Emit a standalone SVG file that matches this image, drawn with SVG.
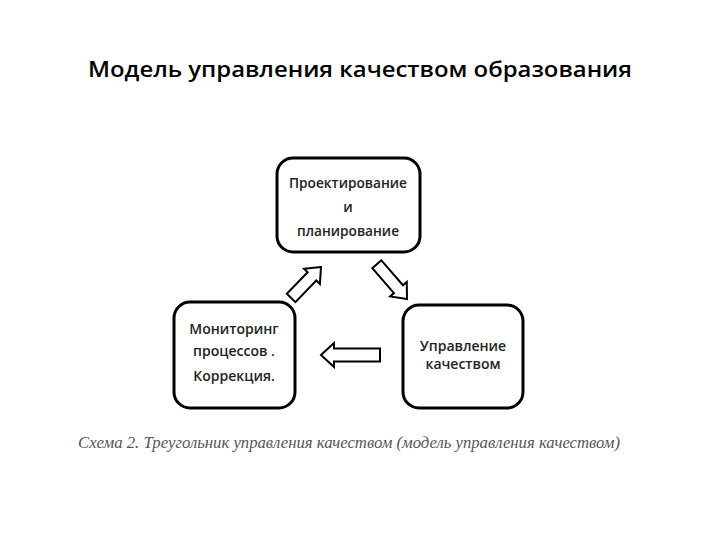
<svg xmlns="http://www.w3.org/2000/svg" width="720" height="540" viewBox="0 0 720 540">
<style>
.box{fill:#fff;stroke:#000;stroke-width:3}
.t{font-family:"Open Sans","Noto Sans",sans-serif;font-size:14px;font-weight:600;fill:#222;text-anchor:middle}
.arrow{fill:#fff;stroke:#000;stroke-width:2;stroke-linejoin:miter}
</style>
<rect width="720" height="540" fill="#fff"/>
<text x="360" y="77" font-family="Open Sans, Noto Sans, sans-serif" font-size="21" font-weight="600" text-anchor="middle" fill="#000" textLength="544" lengthAdjust="spacingAndGlyphs">Модель управления качеством образования</text>
<g id="node-design">
<rect class="box" x="277" y="158" width="143" height="94" rx="16"/>
<text class="t" x="348" y="188" textLength="118" lengthAdjust="spacingAndGlyphs">Проектирование</text>
<text class="t" x="348" y="212">и</text>
<text class="t" x="348" y="236" textLength="102" lengthAdjust="spacingAndGlyphs">планирование</text>
</g>
<g id="node-monitoring">
<rect class="box" x="174" y="302" width="121" height="106" rx="16"/>
<text class="t" x="234" y="334">Мониторинг</text>
<text class="t" x="234" y="356">процессов .</text>
<text class="t" x="234" y="381">Коррекция.</text>
</g>
<g id="node-management">
<rect class="box" x="403" y="305" width="120" height="103" rx="16"/>
<text class="t" x="463" y="351">Управление</text>
<text class="t" x="463" y="369">качеством</text>
</g>
<g id="connectors">
<polygon class="arrow" transform="translate(321,267) rotate(-46)" points="0,0 -13,-11 -13,-6 -43,-6 -43,6 -13,6 -13,11"/>
<polygon class="arrow" transform="translate(407,299) rotate(49)" points="0,0 -13,-11 -13,-6 -46,-6 -46,6 -13,6 -13,11"/>
<polygon class="arrow" transform="translate(321,355) rotate(180)" points="0,0 -13,-12 -13,-6.5 -59,-6.5 -59,6.5 -13,6.5 -13,12"/>
</g>
<text x="349" y="448" font-family="Liberation Serif, serif" font-style="italic" font-size="16" fill="#555" text-anchor="middle" textLength="542" lengthAdjust="spacingAndGlyphs">Схема 2. Треугольник управления качеством (модель управления качеством)</text>
</svg>
